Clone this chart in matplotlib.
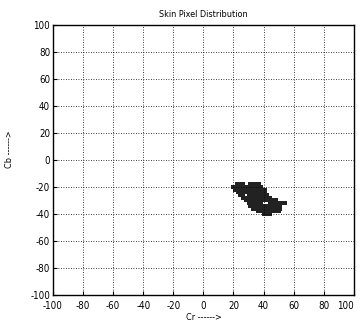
import matplotlib
matplotlib.use("Agg")
import matplotlib.pyplot as plt

# Skin pixel samples (Cr, Cb)
cr = [22, 24, 26, 31, 33, 35, 37,
      20, 22, 24, 26, 28, 30, 32, 34, 36, 38,
      21, 23, 25, 27, 29, 31, 33, 35, 37, 39, 41,
      23, 25, 27, 29, 31, 33, 35, 37, 39, 41,
      24, 26, 30, 32, 34, 36, 38, 40, 42,
      26, 28, 30, 32, 34, 36, 38, 40, 42, 44,
      28, 30, 32, 34, 36, 38, 40, 42, 44, 46, 48,
      30, 32, 34, 36, 38, 44, 46, 48, 50, 52, 54,
      31, 33, 35, 37, 39, 41, 43, 45, 47, 49, 51,
      33, 35, 37, 39, 41, 43, 45, 47, 49, 51,
      36, 38, 40, 42, 44, 46, 48, 50,
      40, 42, 44]
cb = [-18, -18, -18, -18, -18, -18, -18,
      -20, -20, -20, -20, -20, -20, -20, -20, -20, -20,
      -22, -22, -22, -22, -22, -22, -22, -22, -22, -22, -22,
      -24, -24, -24, -24, -24, -24, -24, -24, -24, -24,
      -26, -26, -26, -26, -26, -26, -26, -26, -26,
      -28, -28, -28, -28, -28, -28, -28, -28, -28, -28,
      -30, -30, -30, -30, -30, -30, -30, -30, -30, -30, -30,
      -32, -32, -32, -32, -32, -32, -32, -32, -32, -32, -32,
      -34, -34, -34, -34, -34, -34, -34, -34, -34, -34, -34,
      -36, -36, -36, -36, -36, -36, -36, -36, -36, -36,
      -38, -38, -38, -38, -38, -38, -38, -38,
      -40, -40, -40]

ticks = [-100, -80, -60, -40, -20, 0, 20, 40, 60, 80, 100]

plt.rcParams['font.family'] = ['DejaVu Sans']
plt.rcParams['font.stretch'] = 'condensed'
plt.rcParams['axes.unicode_minus'] = False

fig = plt.figure(figsize=(3.6, 3.27), dpi=100)
ax = fig.add_axes([0.147, 0.098, 0.836, 0.826])
ax.scatter(cr, cb, s=5, marker='s', color='#222222', linewidths=0)
ax.set_xlim(-100, 100)
ax.set_ylim(-100, 100)
ax.set_xticks(ticks)
ax.set_yticks(ticks)
ax.grid(True, linestyle=(0, (1, 2)), color='black', linewidth=0.6)
ax.tick_params(direction='in', length=3, labelsize=7)
ax.tick_params(axis='x', pad=4)
ax.tick_params(axis='y', pad=2)
ax.get_xticklabels()[-1].set_horizontalalignment('right')
for s in ax.spines.values():
    s.set_linewidth(1.0)
ax.set_title('Skin Pixel Distribution', fontsize=6.5, pad=6)
ax.set_xlabel('Cr ------>', fontsize=6.5, labelpad=2)
ax.set_ylabel('Cb ------>', fontsize=6.5)
ax.yaxis.set_label_coords(-0.13, 0.54)
fig.savefig('out.png', dpi=100)
